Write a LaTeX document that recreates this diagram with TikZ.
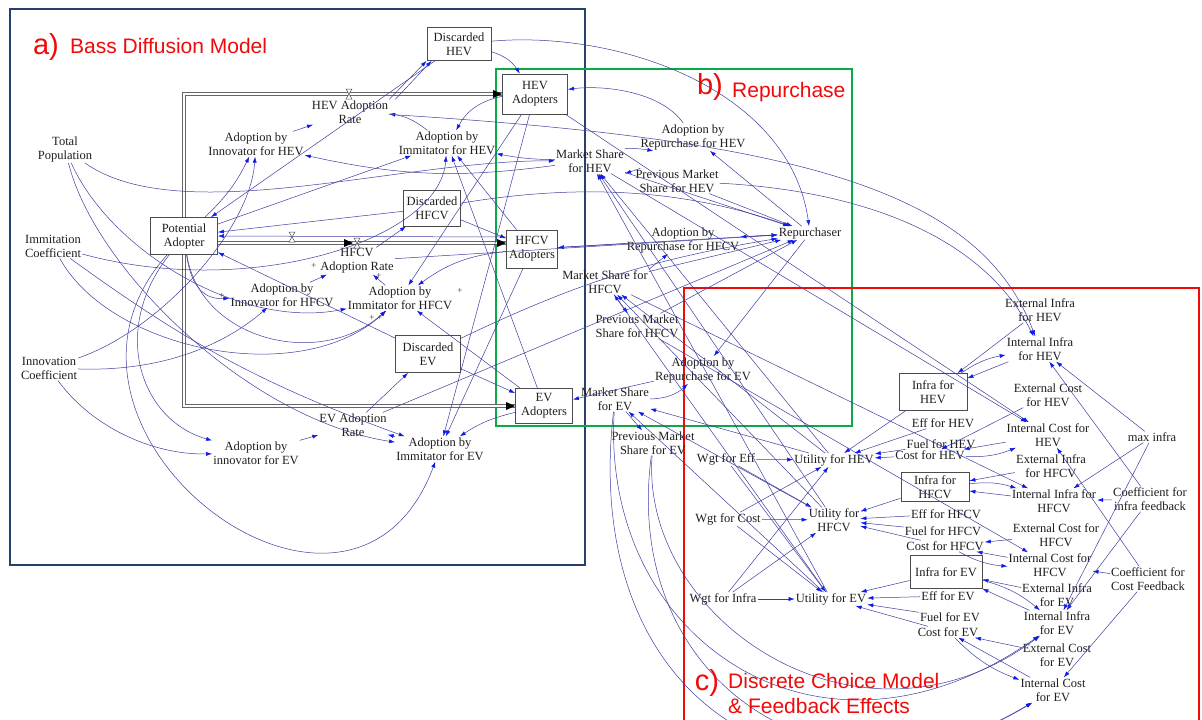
\documentclass[tikz,border=0pt]{standalone}
\usepackage{fontspec}
\setmainfont{Liberation Serif}
\newfontfamily\ttlfont{Liberation Sans}
\usetikzlibrary{arrows.meta}
\newcommand\sdfont{\fontsize{12.5}{14}\selectfont}
\definecolor{lnkblue}{RGB}{62,62,160}
\definecolor{tipblue}{RGB}{15,25,235}
\definecolor{bassblue}{RGB}{38,66,108}
\definecolor{repgreen}{RGB}{10,170,70}
\definecolor{dcmred}{RGB}{240,10,10}
\tikzset{
  var/.style={font=\sdfont, text=black!88, align=center, inner sep=1pt},
  stock/.style={var, draw=black!70, line width=0.8pt, fill=white, inner sep=2pt},
  sgn/.style={font=\fontsize{9}{9}\selectfont, text=black!80, inner sep=0pt},
  lnk/.style={draw=lnkblue, line width=0.5pt, -{Latex[length=6pt,width=4pt,color=tipblue]}},
  pipe/.style={draw=black!60, double=white, line width=1.4pt, double distance=1.8pt},
  frame/.style={line width=2.6pt},
  ttl/.style={font=\ttlfont\fontsize{21}{24}\selectfont, text=dcmred, anchor=west, inner sep=0pt},
  ttlmark/.style={font=\ttlfont\fontsize{29}{30}\selectfont, text=dcmred, inner sep=0pt},
  valve/.pic={\draw[black!70, line width=0.5pt, fill=white] (-3,-5) -- (3,-5) -- (-3,5) -- (3,5) -- cycle;}
}
\begin{document}
\begin{tikzpicture}[x=1pt,y=-1pt]
\useasboundingbox (0,0) rectangle (1202,720);
\clip (0,0) rectangle (1202,720);
\fill[white] (0,0) rectangle (1202,720);

\draw[frame, bassblue] (10,9) rectangle (585,565);
\draw[frame, repgreen] (496,69) rectangle (852,426);
\draw[frame, dcmred] (684,288) rectangle (1199,760);

\node[var] (tp) at (65,149) {Total\\Population};
\node[var] (imc) at (53,246) {Immitation\\Coefficient};
\node[var] (inc) at (49,368) {Innovation\\Coefficient};
\node[stock, minimum width=67, minimum height=37] (pa) at (184,236) {Potential\\Adopter};
\node[var] (innhev) at (256,144) {Adoption by\\Innovator for HEV};
\node[var] (rhev) at (350,112) {HEV Adoption\\Rate};
\node[var] (immhev) at (447,143) {Adoption by\\Immitator for HEV};
\node[stock, minimum width=64, minimum height=33] (dhev) at (459,44) {Discarded\\HEV};
\node[stock, minimum width=65, minimum height=40] (ahev) at (535,94) {HEV\\Adopters};
\node[stock, minimum width=57, minimum height=36] (dhfcv) at (432,208) {Discarded\\HFCV};
\node[stock, minimum width=51, minimum height=38] (ahfcv) at (532,249) {HFCV\\Adopters};
\node[var] (rhfcv) at (357,261) {HFCV\\Adoption Rate};
\node[var] (innhfcv) at (282,295) {Adoption by\\Innovator for HFCV};
\node[var] (immhfcv) at (400,298) {Adoption by\\Immitator for HFCV};
\node[stock, minimum width=65, minimum height=37] (dev) at (428,354) {Discarded\\EV};
\node[stock, minimum width=57, minimum height=35] (aev) at (544,406) {EV\\Adopters};
\node[var] (rev) at (353,425) {EV Adoption\\Rate};
\node[var] (innev) at (256,453) {Adoption by\\innovator for EV};
\node[var] (immev) at (440,449) {Adoption by\\Immitator for EV};

\node[var] (mshev) at (590,161) {Market Share\\for HEV};
\node[var] (arhev) at (693,137) {Adoption by\\Repurchase for HEV};
\node[var] (pmshev) at (677,181) {Previous Market\\Share for HEV};
\node[var] (rep) at (810,233) {Repurchaser};
\node[var] (arhfcv) at (683,240) {Adoption by\\Repurchase for HFCV};
\node[var] (mshfcv) at (605,282) {Market Share for\\HFCV};
\node[var] (pmshfcv) at (637,326) {Previous Market\\Share for HFCV};
\node[var] (arev) at (703,370) {Adoption by\\Repurchase for EV};
\node[var] (msev) at (615,399) {Market Share\\for EV};
\node[var] (pmsev) at (653,443) {Previous Market\\Share for EV};

\node[var] (exihev) at (1040,310) {External Infra\\for HEV};
\node[var] (inihev) at (1040,349) {Internal Infra\\for HEV};
\node[stock, minimum width=68, minimum height=37] (ihev) at (933,392) {Infra for\\HEV};
\node[var] (exchev) at (1048,395) {External Cost\\for HEV};
\node[var] (inchev) at (1048,435) {Internal Cost for\\HEV};
\node[var] (effhev) at (943,423) {Eff for HEV};
\node[var] (fuelhev) at (941,444) {Fuel for HEV};
\node[var] (costhev) at (930,455) {Cost for HEV};
\node[var] (maxinfra) at (1152,437) {max infra};
\node[var] (exihfcv) at (1051,466) {External Infra\\for HFCV};
\node[stock, minimum width=68, minimum height=29] (ihfcv) at (935,487) {Infra for\\HFCV};
\node[var] (inihfcv) at (1054,501) {Internal Infra for\\HFCV};
\node[var] (cif) at (1150,499) {Coefficient for\\infra feedback};
\node[var] (effhfcv) at (946,514) {Eff for HFCV};
\node[var] (fuelhfcv) at (943,531) {Fuel for HFCV};
\node[var] (costhfcv) at (945,546) {Cost for HFCV};
\node[var] (exchfcv) at (1056,535) {External Cost for\\HFCV};
\node[var] (inchfcv) at (1050,565) {Internal Cost for\\HFCV};
\node[stock, minimum width=72, minimum height=33] (iev) at (946,572) {Infra for EV};
\node[var] (exiev) at (1057,595) {External Infra\\for EV};
\node[var] (iniev) at (1057,623) {Internal Infra\\for EV};
\node[var] (ccf) at (1148,579) {Coefficient for\\Cost Feedback};
\node[var] (effev) at (948,596) {Eff for EV};
\node[var] (fuelev) at (950,617) {Fuel for EV};
\node[var] (costev) at (948,632) {Cost for EV};
\node[var] (excev) at (1057,655) {External Cost\\for EV};
\node[var] (incev) at (1053,690) {Internal Cost\\for EV};
\node[var] (weff) at (726,459) {Wgt for Eff};
\node[var] (uhev) at (834,460) {Utility for HEV};
\node[var] (wcost) at (728,519) {Wgt for Cost};
\node[var] (uhfcv) at (834,520) {Utility for\\HFCV};
\node[var] (winfra) at (723,599) {Wgt for Infra};
\node[var] (uev) at (831,599) {Utility for EV};

\coordinate (hfcvpipe) at (0,243);
\draw[pipe] (pa.north) |- (ahev.west);
\draw[pipe] (pa.east |- hfcvpipe) -- (ahfcv.west |- hfcvpipe);
\draw[pipe] (pa.south) |- (aev.west);
\fill[black] (ahev.west) -- ++(-9,-4) -- ++(0,8) -- cycle;
\fill[black] (ahfcv.west |- hfcvpipe) -- ++(-9,-4) -- ++(0,8) -- cycle;
\fill[black] (aev.west) -- ++(-9,-4) -- ++(0,8) -- cycle;
\fill[black] (353,243) -- ++(-9,-4) -- ++(0,8) -- cycle;
\pic at (349,94) {valve};
\pic at (357,243) {valve};
\pic at (292,237) {valve};

\draw[lnk] (tp) .. controls (180,230) and (400,160) .. (mshev);
\draw[lnk] (tp) .. controls (95,270) and (250,420) .. (immev);
\draw[lnk] (tp) .. controls (110,250) and (240,330) .. (immhfcv);
\draw[lnk] (imc) .. controls (250,300) and (440,240) .. (immhev);
\draw[lnk] (imc) .. controls (110,350) and (300,390) .. (immhfcv);
\draw[lnk] (imc) to[bend right=8] (immev);
\draw[lnk] (inc) .. controls (160,330) and (250,230) .. (innhev);
\draw[lnk] (inc) .. controls (170,372) and (230,340) .. (innhfcv);
\draw[lnk] (inc) .. controls (90,425) and (150,455) .. (innev);
\draw[lnk] (pa) to[bend right=10] (innhev);
\draw[lnk] (pa) -- (immhev);
\draw[lnk] (pa) .. controls (190,280) and (200,300) .. (innhfcv);
\draw[lnk] (pa) .. controls (200,340) and (320,370) .. (immhfcv);
\draw[lnk] (pa) .. controls (110,330) and (140,420) .. (innev);
\draw[lnk] (pa) .. controls (10,430) and (350,690) .. (immev);
\draw[lnk] (ahev) to[bend right=25] (immhev);
\draw[lnk] (ahfcv) to[bend right=15] (immhfcv);
\draw[lnk] (aev) to[bend right=10] (immev);
\draw[lnk] (ahev) -- (immhfcv);
\draw[lnk] (ahev) -- (immev);
\draw[lnk] (ahfcv) -- (immhev);
\draw[lnk] (ahfcv) -- (immev);
\draw[lnk] (aev) -- (immhev);
\draw[lnk] (aev) -- (immhfcv);
\draw[lnk] (mshev) to[bend left=5] (immhev);
\draw[lnk] (mshev) to[bend left=10] (innhev);
\draw[lnk] (innhev) -- (rhev);
\draw[lnk] (immhev) to[bend right=15] (rhev);
\draw[lnk] (innhfcv) -- (rhfcv);
\draw[lnk] (immhfcv) -- (rhfcv);
\draw[lnk] (innev) -- (rev);
\draw[lnk] (immev) -- (rev);
\draw[lnk] (rhev.north east) -- (dhev.south west);
\draw[lnk] ([xshift=6pt]rhev.north east) -- ([xshift=5pt]dhev.south west);
\draw[lnk] (rhfcv) -- (dhfcv);
\draw[lnk] (rev) -- (dev);
\draw[lnk] (dhev) to[bend left=20] (ahev);
\draw[lnk] (dhev) -- (pa);
\draw[lnk] (dhfcv) -- (pa);
\draw[lnk] ([yshift=12pt]ahfcv.west) -- (pa.east);
\draw[lnk] (dhfcv) -- (ahfcv);
\draw[lnk] (dev) -- (pa);
\draw[lnk] (dev) -- (aev);
\draw[lnk] (dev) to[bend left=8] (rep);
\draw[lnk] (rev) -- (rep);
\draw[lnk] (rhfcv) -- (rep);
\draw[lnk] (dhfcv) .. controls (600,180) and (700,195) .. (rep);
\draw[lnk] (dhev) .. controls (620,30) and (790,90) .. (rep);
\draw[lnk] (ahfcv) -- (rep);

\draw[lnk] (mshev.north east) to[bend left=5] ([xshift=14pt]arhev.south west);
\draw[lnk] ([xshift=6pt]pmshev.north west) -- (mshev.south east);
\draw[lnk] (mshfcv) -- (pmshfcv);
\draw[lnk] (msev) -- (pmsev);
\draw[lnk] (mshfcv.north east) -- ([xshift=-15pt]arhfcv.south);
\draw[lnk] (msev.east) to[bend right=20] ([xshift=-15pt]arev.south);
\draw[lnk] (rep) -- (arhev);
\draw[lnk] (rep) -- (arhfcv);
\draw[lnk] (rep) -- (arev);
\draw[lnk] (arhev) .. controls (660,90) and (600,85) .. (ahev);
\draw[lnk] (arhfcv) -- (ahfcv);
\draw[lnk] (arev) -- (aev);
\draw[lnk] (mshev) -- (rep);
\draw[lnk] (pmshev) -- (rep);
\draw[lnk] (mshfcv) -- (rep);
\draw[lnk] (pmshfcv) -- (rep);

\draw[lnk] (rhev) .. controls (800,140) and (980,190) .. (inihev);
\draw[lnk] (pmshev) .. controls (850,190) and (980,230) .. (inihev);
\draw[lnk] (mshev) -- (inchev);
\draw[lnk] (ahev) -- (inchev);
\draw[lnk] (mshfcv) -- (inihfcv);
\draw[lnk] (pmshfcv) -- (inchfcv);
\draw[lnk] (msev) .. controls (600,640) and (820,790) .. (iniev);
\draw[lnk] (pmsev) .. controls (640,620) and (860,770) .. (iniev);
\draw[lnk] (msev) .. controls (580,700) and (800,840) .. (incev);
\draw[lnk] (pmsev) .. controls (620,690) and (840,820) .. (incev);

\foreach \p in {hev,hfcv,ev}{
  \draw[lnk] (exi\p) -- (i\p);
  \draw[lnk] (ini\p) -- (i\p);
  \draw[lnk] (i\p) to[bend left=12] (ini\p);
  \draw[lnk] (exc\p) -- (cost\p);
  \draw[lnk] (inc\p) -- (cost\p);
  \draw[lnk] (cost\p) to[bend right=12] (inc\p);
  \draw[lnk] (i\p) -- (u\p);
  \draw[lnk] (eff\p) -- (u\p);
  \draw[lnk] (fuel\p) -- (u\p);
  \draw[lnk] (cost\p) -- (u\p);
  \draw[lnk] (maxinfra) -- (ini\p);
  \draw[lnk] (cif) -- (ini\p);
  \draw[lnk] (ccf) -- (inc\p);
}
\foreach \w in {weff,wcost,winfra}
  \foreach \u in {uhev,uhfcv,uev}
    \draw[lnk] (\w) -- (\u);
\foreach \u in {uhev,uhfcv,uev}
  \foreach \m in {mshev,mshfcv,msev}
    \draw[lnk] (\u) -- (\m);

\foreach \x/\y [count=\i] in {222/296,379/276,460/291,372/318,380/318,314/266}
  \node[sgn] (plus\i) at (\x,\y) {+};

\node[ttlmark] (amark) at (46,47) {a)};
\node[ttl] (atitle) at (70,46) {Bass Diffusion Model};
\node[ttlmark] (bmark) at (710,87) {b)};
\node[ttl] (btitle) at (732,92) {Repurchase};
\node[ttlmark] (cmark) at (707,683) {c)};
\node[ttl] (ctitle) at (728,681) {Discrete Choice Model};
\node[ttl] (ctitlefb) at (728,706) {\& Feedback Effects};
\end{tikzpicture}
\end{document}
